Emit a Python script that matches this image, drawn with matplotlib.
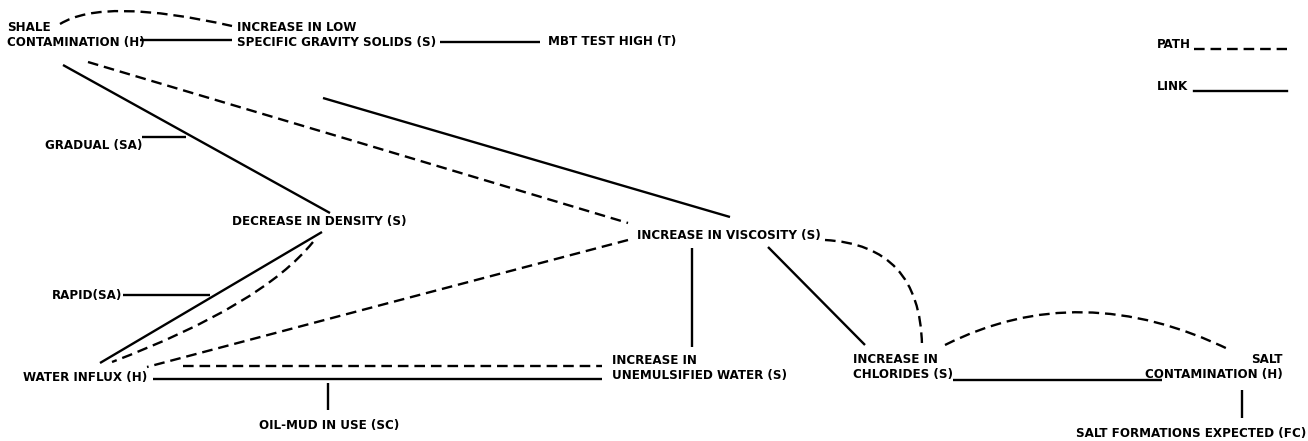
#!/usr/bin/env python3
# coding: utf-8

import numpy
from matplotlib import pyplot as plt
from matplotlib.path import Path
from matplotlib.patches import PathPatch


FONT = ['DejaVu Sans']

# node texts: (text, x, y, align)
NODES = [
    ('SHALE\nCONTAMINATION (H)', 7, 35, 'left'),
    ('INCREASE IN LOW\nSPECIFIC GRAVITY SOLIDS (S)', 237, 35, 'left'),
    ('MBT TEST HIGH (T)', 548, 42, 'left'),
    ('GRADUAL (SA)', 45, 145, 'left'),
    ('DECREASE IN DENSITY (S)', 232, 222, 'left'),
    ('INCREASE IN VISCOSITY (S)', 637, 235, 'left'),
    ('RAPID(SA)', 52, 295, 'left'),
    ('WATER INFLUX (H)', 23, 378, 'left'),
    ('OIL-MUD IN USE (SC)', 259, 426, 'left'),
    ('INCREASE IN\nUNEMULSIFIED WATER (S)', 612, 368, 'left'),
    ('INCREASE IN\nCHLORIDES (S)', 853, 367, 'left'),
    ('SALT\nCONTAMINATION (H)', 1283, 367, 'right'),
    ('SALT FORMATIONS EXPECTED (FC)', 1306, 434, 'right'),
]

# links (solid): start, end
LINKS = [
    ((140, 40), (232, 40)),
    ((440, 42), (540, 42)),
    ((63, 65), (330, 213)),
    ((142, 137), (186, 137)),
    ((323, 98), (730, 217)),
    ((322, 232), (100, 363)),
    ((123, 295), (210, 295)),
    ((153, 379), (602, 379)),
    ((328, 383), (328, 410)),
    ((692, 248), (692, 347)),
    ((768, 247), (865, 345)),
    ((953, 380), (1162, 380)),
    ((1242, 390), (1242, 418)),
]

# paths (dashed): start, control, end (quadratic)
PATHS = [
    ((60, 24), (104, -3), (232, 26)),
    ((88, 62), (358, 142), (628, 223)),
    ((313, 242), (262, 305), (112, 362)),
    ((628, 240), (388, 303), (147, 367)),
    ((183, 366), (392, 366), (602, 366)),
    ((825, 240), (920, 245), (922, 345)),
    ((945, 345), (1080, 277), (1230, 350)),
]

LEGEND = [('PATH', 45, '--'), ('LINK', 87, '-')]


def draw_links(ax):
    for (x0, y0), (x1, y1) in LINKS:
        ax.plot([x0, x1], [y0, y1], color='black', lw=1.7, solid_capstyle='butt')


def draw_paths(ax):
    for p0, c, p1 in PATHS:
        path = Path([p0, c, p1], [Path.MOVETO, Path.CURVE3, Path.CURVE3])
        ax.add_patch(PathPatch(path, fill=False, color='black', lw=1.7,
                               linestyle=(0, (4.5, 2.5))))


def draw_nodes(ax):
    for text, x, y, align in NODES:
        ax.text(x, y, text, ha=align, va='center', multialignment=align,
                family=FONT, weight='bold', stretch='condensed',
                fontsize=9.5, linespacing=1.2)


def draw_legend(ax):
    for name, y, style in LEGEND:
        ax.text(1157, y, name, ha='left', va='center', family=FONT,
                weight='bold', stretch='condensed', fontsize=9.5)
        ls = (0, (4.5, 2.5)) if style == '--' else '-'
        ax.plot([1194, 1287], [y + 4, y + 4], color='black', lw=1.7, linestyle=ls)


def main():
    fig = plt.figure(figsize=(13.08, 4.41), dpi=100)
    ax = fig.add_axes([0, 0, 1, 1])
    ax.set_xlim(0, 1308)
    ax.set_ylim(441, 0)
    ax.axis('off')

    draw_paths(ax)
    draw_links(ax)
    draw_nodes(ax)
    draw_legend(ax)

    fig.savefig('out.png', dpi=100, facecolor='white')


if __name__ == "__main__":
    main()
